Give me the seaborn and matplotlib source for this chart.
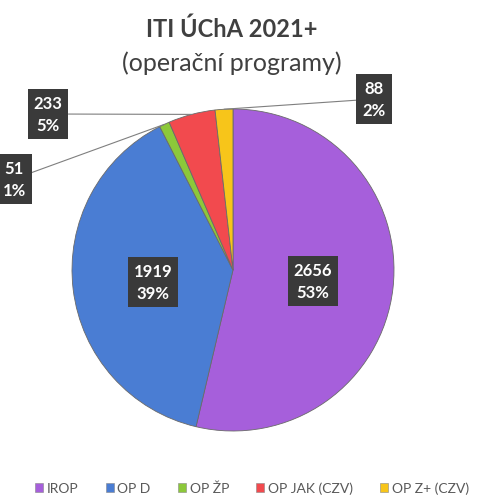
import numpy as np
import matplotlib
matplotlib.use("Agg")
import matplotlib.pyplot as plt
import seaborn as sns

# ---- data ----
categories = ["IROP", "OP D", "OP ŽP", "OP JAK (CZV)", "OP Z+ (CZV)"]
values = [2656, 1919, 51, 233, 88]
pct_labels = ["53%", "39%", "1%", "5%", "2%"]
colors = ["#A65FDB", "#4A7DD3", "#8CC83A", "#F24A4E", "#F7C51A"]

sns.set_theme(style="white")
plt.rcParams["font.family"] = ["Lato", "DejaVu Sans"]

W, H = 479, 502
fig = plt.figure(figsize=(W / 100, H / 100), dpi=100)
ax = fig.add_axes([0, 0, 1, 1])

cx, cy, R = 233, H - 271, 161
wedges, _ = ax.pie(values, colors=colors, startangle=90, counterclock=False,
                   center=(cx, cy), radius=R,
                   wedgeprops=dict(edgecolor="#6a6a6a", linewidth=0.6))
ax.set_xlim(0, W)
ax.set_ylim(0, H)
ax.set_aspect("equal")
ax.axis("off")

box = dict(boxstyle="square,pad=0.36", fc="#3a3a3a", ec="none")
txtkw = dict(color="white", fontsize=12, fontweight="bold", ha="center",
             va="center", linespacing=1.45, bbox=box)

# inner labels
for i in (0, 1):
    w = wedges[i]
    ang = np.deg2rad((w.theta1 + w.theta2) / 2)
    x = cx + 0.5 * R * np.cos(ang)
    y = cy + 0.5 * R * np.sin(ang) - 2
    ax.text(x, y, f"{values[i]}\n{pct_labels[i]}", **txtkw)

# outer labels with leader lines
outer_pos = {2: (14, H - 180), 3: (48, H - 115), 4: (374, H - 100)}
for i, (tx, ty) in outer_pos.items():
    w = wedges[i]
    ang = np.deg2rad((w.theta1 + w.theta2) / 2)
    ex = cx + R * np.cos(ang)
    ey = cy + R * np.sin(ang)
    ax.annotate(f"{values[i]}\n{pct_labels[i]}", xy=(ex, ey), xytext=(tx, ty),
                arrowprops=dict(arrowstyle="-", color="#7f7f7f", lw=0.8,
                                shrinkA=0, shrinkB=0),
                **txtkw)

# titles
fig.text(232 / W, 1 - 29 / H, "ITI ÚChA 2021+", ha="center", va="center",
         fontsize=17, fontweight="bold", color="#404040")
fig.text(232 / W, 1 - 63 / H, "(operační programy)", ha="center", va="center",
         fontsize=18, color="#404040")

# legend
leg = fig.legend(wedges, categories, loc="center", ncol=5,
                 bbox_to_anchor=(252 / W, 1 - 489 / H), frameon=False,
                 fontsize=10, handlelength=0.6, handleheight=0.6,
                 handletextpad=0.25, columnspacing=1.95)
for t in leg.get_texts():
    t.set_color("#595959")
for h in leg.legend_handles:
    h.set_linewidth(0.4)
    h.set_edgecolor("#888888")

fig.savefig("out.png", dpi=100)
